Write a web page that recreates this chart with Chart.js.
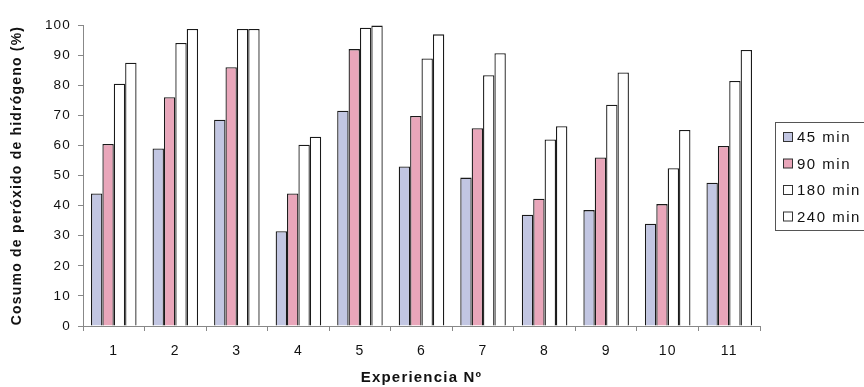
<!DOCTYPE html>
<html>
<head>
<meta charset="utf-8">
<script src="https://cdn.jsdelivr.net/npm/chart.js@4.4.0/dist/chart.umd.min.js"></script>
<style>
	html, body { margin: 0; padding: 0; background: #fff; }
	#wrap { width: 864px; height: 387px; }
</style>
</head>
<body>
<div id="wrap"><canvas id="chart"></canvas></div>
<script>
	'use strict'

	// Data
	const categories = ['1', '2', '3', '4', '5', '6', '7', '8', '9', '10', '11'];
	const seriesNames = ['45 min', '90 min', '180 min', '240 min'];
	const min45 = [44, 59, 68.5, 31.5, 71.5, 53, 49.3, 37, 38.5, 34, 47.6];
	const min90 = [60.5, 76, 86, 44, 92, 69.8, 65.7, 42.3, 56, 40.5, 59.8];
	const min180 = [80.5, 94, 98.7, 60.2, 99.1, 88.9, 83.3, 62, 73.5, 52.4, 81.4];
	const min240 = [87.5, 98.7, 98.7, 62.9, 99.8, 96.9, 90.6, 66.4, 84.2, 65.1, 91.7];
	const yTicks = [0, 10, 20, 30, 40, 50, 60, 70, 80, 90, 100];

	const fills = ['#c2c6e2', '#e9a6ba', '#ffffff', '#ffffff'];
	const font = 'Liberation Sans, Arial, sans-serif';

	// The scanned original has slightly spaced-out lettering
	const spacing = {
		id: 'spacing',
		beforeLayout(chart) { chart.ctx.letterSpacing = '1.2px'; },
		beforeDraw(chart) { chart.ctx.letterSpacing = '1.2px'; }
	};

	// Draws the boxed legend at the right, clipped by the canvas edge
	const boxLegend = {
		id: 'boxLegend',
		afterDraw(chart) {
			const ctx = chart.ctx;
			const x = 775, y = 122, w = 120, h = 108;
			ctx.save();
			ctx.letterSpacing = '1.5px';
			ctx.fillStyle = '#fff';
			ctx.fillRect(x, y, w, h);
			ctx.strokeStyle = '#555';
			ctx.lineWidth = 1;
			ctx.strokeRect(x + 0.5, y + 0.5, w, h);
			ctx.font = '15px ' + font;
			ctx.textBaseline = 'middle';
			chart.data.datasets.forEach((ds, i) => {
				const cy = 137 + i * 26.5;
				ctx.fillStyle = ds.backgroundColor;
				ctx.fillRect(783.5, cy - 4.5, 9, 9);
				ctx.strokeStyle = '#333';
				ctx.strokeRect(783.5, cy - 4.5, 9, 9);
				ctx.fillStyle = '#111';
				ctx.fillText(ds.label, 797, cy + 1);
			});
			ctx.restore();
		}
	};

	const data = {
		labels: categories,
		datasets: [min45, min90, min180, min240].map((vals, i) => ({
			label: seriesNames[i],
			data: vals,
			backgroundColor: fills[i],
			borderColor: '#1a1a1a',
			borderWidth: 1.3,
			borderSkipped: 'bottom',
			categoryPercentage: 0.74,
			barPercentage: 1
		}))
	};

	const config = {
		type: 'bar',
		data: data,
		options: {
			responsive: false,
			animation: false,
			devicePixelRatio: 1,
			layout: { padding: { left: 0, right: 104, top: 25, bottom: 0 } },
			plugins: {
				legend: { display: false },
				tooltip: { enabled: false }
			},
			scales: {
				x: {
					afterFit(scale) { scale.height = 61; },
					grid: {
						display: true,
						offset: true,
						drawOnChartArea: false,
						tickLength: 5,
						color: '#888'
					},
					border: { display: true, color: '#888', width: 1 },
					ticks: {
						color: '#111',
						font: { family: font, size: 14 },
						padding: 12
					},
					title: {
						display: true,
						text: 'Experiencia Nº',
						color: '#111',
						font: { family: font, size: 15, weight: 'bold' },
						padding: { top: 0, bottom: 0 }
					}
				},
				y: {
					min: 0,
					max: 100,
					afterFit(scale) { scale.width = 83; },
					afterBuildTicks(scale) { scale.ticks = yTicks.map(v => ({ value: v })); },
					grid: {
						display: true,
						drawOnChartArea: false,
						tickLength: 5,
						color: '#888'
					},
					border: { display: true, color: '#888', width: 1 },
					ticks: {
						color: '#111',
						font: { family: font, size: 13.5 },
						padding: 7
					},
					title: {
						display: true,
						text: 'Cosumo de peróxido de hidrógeno (%)',
						color: '#111',
						font: { family: font, size: 14, weight: 'bold' },
						padding: { top: 9, bottom: 0 }
					}
				}
			}
		},
		plugins: [spacing, boxLegend]
	};

	const canvas = document.getElementById('chart');
	canvas.width = 864;
	canvas.height = 387;
	new Chart(canvas, config);
</script>
</body>
</html>
